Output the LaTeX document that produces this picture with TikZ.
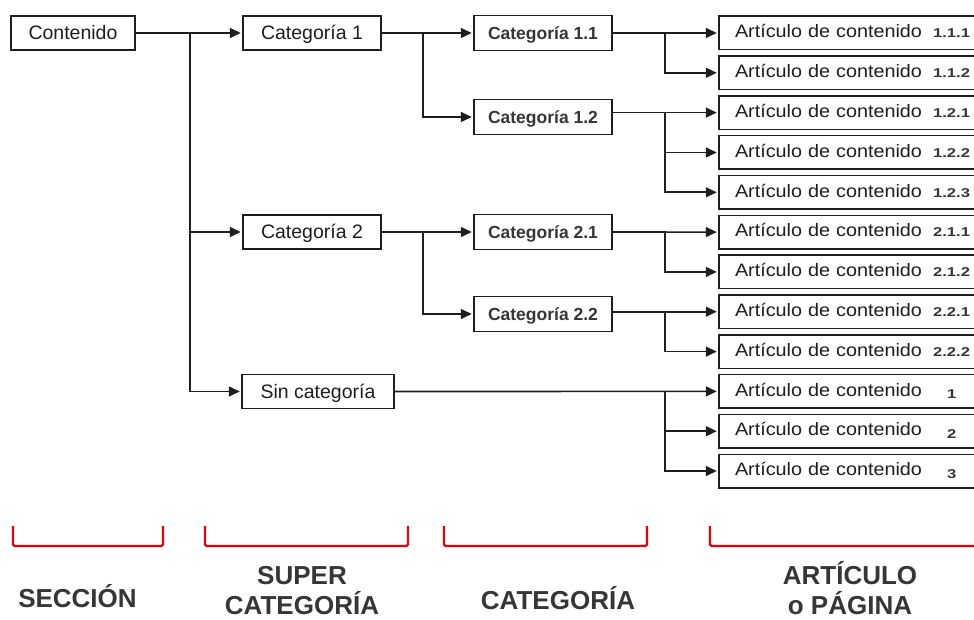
\documentclass[tikz,border=0pt]{standalone}
\usepackage{fontspec}
\setmainfont{Liberation Sans}
\newfontfamily\artfont[FakeStretch=1.1]{Liberation Sans}
\newfontfamily\numfam[FakeStretch=1.3]{Liberation Sans}
\usetikzlibrary{arrows.meta}
\definecolor{ink}{HTML}{1E1E1E}
\definecolor{gr}{HTML}{363636}
\definecolor{brk}{HTML}{E8000B}
\newcommand{\nb}[1]{{\numfam\bfseries\fontsize{12.8pt}{14pt}\selectfont\color{gr}#1}}
\newcommand{\artA}[1]{\makebox[198pt][l]{Artículo de contenido}\nb{#1}}
\newcommand{\artB}[1]{\makebox[212pt][l]{Artículo de contenido}\raisebox{-2.5pt}{\nb{#1}}}
\newcommand{\twolines}[2]{\vtop{\halign{\hfil##\hfil\cr #1\cr #2\cr}}}
\begin{document}
\begin{tikzpicture}[x=1pt,y=-1pt,
  box/.style={draw=ink, line width=1.5pt, fill=white, inner sep=0pt},
  mainbox/.style={box, minimum height=34pt, font=\fontsize{19.5pt}{22pt}\selectfont, text=ink, text height=14pt, text depth=0pt},
  subbox/.style={box, minimum width=138pt, minimum height=35pt, font=\fontsize{17.5pt}{20pt}\selectfont\bfseries, text=gr, text height=12.6pt, text depth=0pt},
  artbox/.style={box, minimum width=266pt, minimum height=33.5pt, inner xsep=16pt, text width=234pt, align=left, font=\artfont\fontsize{18pt}{20pt}\selectfont, text=ink, text height=12.9pt, text depth=3.4pt},
  conn/.style={draw=ink, line width=1.6pt, -{Triangle[length=11pt,width=10pt]}, shorten >=1.5pt},
  lab/.style={font=\fontsize{26pt}{30pt}\selectfont\bfseries, text=gr, anchor=base, inner sep=0pt},
  brkt/.style={draw=brk, line width=2.4pt, rounded corners=1.5pt}]
\useasboundingbox (0,0) rectangle (974,620);
\clip (0,0) rectangle (974,620);
\fill[white] (0,0) rectangle (974,620);

% branch columns
\coordinate (t0) at (190,0);
\coordinate (t1) at (423,0);
\coordinate (t2) at (665,0);

% level 1-2
\node[mainbox, minimum width=124pt] (cont) at (73,33) {Contenido};
\node[mainbox, minimum width=138pt] (cat1) at (312,33) {Categoría 1};
\node[mainbox, minimum width=138pt] (cat2) at (312,232) {Categoría 2};
\node[mainbox, minimum width=152pt] (sinc) at (318,391.5) {Sin categoría};

% level 3
\node[subbox] (c11) at (543,33) {Categoría 1.1};
\node[subbox] (c12) at (543,117) {Categoría 1.2};
\node[subbox] (c21) at (543,232) {Categoría 2.1};
\node[subbox] (c22) at (543,314) {Categoría 2.2};

% articles
\node[artbox] (a111) at (852,33)    {\artA{1.1.1}};
\node[artbox] (a112) at (852,72.8)  {\artA{1.1.2}};
\node[artbox] (a121) at (852,112.6) {\artA{1.2.1}};
\node[artbox] (a122) at (852,152.5) {\artA{1.2.2}};
\node[artbox] (a123) at (852,192.3) {\artA{1.2.3}};
\node[artbox] (a211) at (852,232.1) {\artA{2.1.1}};
\node[artbox] (a212) at (852,271.9) {\artA{2.1.2}};
\node[artbox] (a221) at (852,311.7) {\artA{2.2.1}};
\node[artbox] (a222) at (852,351.6) {\artA{2.2.2}};
\node[artbox] (a1)   at (852,391.4) {\artB{1}};
\node[artbox] (a2)   at (852,431.2) {\artB{2}};
\node[artbox] (a3)   at (852,471)   {\artB{3}};

% connectors level 1 -> 2
\draw[conn] (cont.east) -- (cat1.west);
\draw[conn] (cont.east -| t0) |- (cat2.west);
\draw[conn] (cont.east -| t0) |- (sinc.west);

% level 2 -> 3
\draw[conn] (cat1.east) -- (c11.west);
\draw[conn] (cat1.east -| t1) |- (c12.west);
\draw[conn] (cat2.east) -- (c21.west);
\draw[conn] (cat2.east -| t1) |- (c22.west);

% level 3 -> articles
\draw[conn] (c11.east) -- (a111.west);
\draw[conn] (c11.east -| t2) |- (a112.west);
\draw[conn] (c12.east |- a121.west) -- (a121.west);
\draw[conn] (a121.west -| t2) |- (a122.west);
\draw[conn] (a121.west -| t2) |- (a123.west);
\draw[conn] (c21.east) -- (a211.west);
\draw[conn] (c21.east -| t2) |- (a212.west);
\draw[conn] (c22.east |- a221.west) -- (a221.west);
\draw[conn] (a221.west -| t2) |- (a222.west);
\draw[conn] (sinc.east) -- (a1.west);
\draw[conn] (a1.west -| t2) |- (a2.west);
\draw[conn] (a1.west -| t2) |- (a3.west);

% red brackets
\draw[brkt] (13,526) -- (13,546) -- (163,546) -- (163,526);
\draw[brkt] (205,526) -- (205,546) -- (408,546) -- (408,526);
\draw[brkt] (444,526) -- (444,546) -- (647,546) -- (647,526);
\draw[brkt] (710,526) -- (710,546) -- (990,546);

% bottom labels
\node[lab] (lsec) at (77.5,607) {SECCIÓN};
\node[lab] (lsup) at (302,584) {\twolines{SUPER}{CATEGORÍA}};
\node[lab] (lcat) at (558,609) {CATEGORÍA};
\node[lab] (lart) at (850,584) {\twolines{ARTÍCULO}{o PÁGINA}};
\end{tikzpicture}
\end{document}
